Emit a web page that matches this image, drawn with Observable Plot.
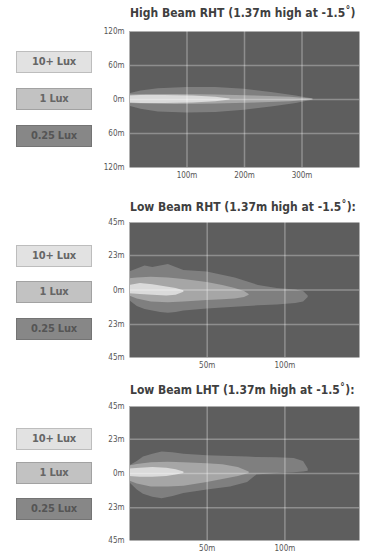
<!DOCTYPE html>
<html>
<head>
<meta charset="utf-8">
<script src="https://cdn.jsdelivr.net/npm/d3@7"></script>
<script src="https://cdn.jsdelivr.net/npm/@observablehq/plot@0.6"></script>
<style>
  html, body { margin: 0; padding: 0; background: #fff; }
  #root { position: relative; width: 372px; height: 554px; overflow: hidden; background: #fff;
          font-family: "DejaVu Sans Condensed", "Liberation Sans Narrow", "DejaVu Sans", sans-serif; }
  .panel { position: absolute; left: 0; }
  .title { position: absolute; left: 130px; white-space: nowrap; font-weight: bold; font-size: 12px; line-height: 14px; color: #3f3f3f; letter-spacing: 0px; }
  .lux { position: absolute; left: 16px; width: 74px; height: 20px; line-height: 20px; text-align: center;
         font-weight: bold; font-size: 11px; border: 1px solid; color: #666; letter-spacing: -0.2px; }
</style>
</head>
<body>
<div id="root"></div>
<script>
// ---------- legend ----------
const luxLabels = ["10+ Lux", "1 Lux", "0.25 Lux"];
const luxFills = ["#e2e2e2", "#c2c2c2", "#878787"];
const luxBorders = ["#bdbdbd", "#a2a2a2", "#747474"];
const beamFills = ["#dadada", "#a6a6a6", "#7f7f7f"];

// ---------- panel titles ----------
const titles = [
  "High Beam RHT (1.37m high at -1.5˚)",
  "Low Beam RHT (1.37m high at -1.5˚):",
  "Low Beam LHT (1.37m high at -1.5˚):"
];

// ---------- axis ticks ----------
const hbXTicks = [100, 200, 300];
const hbYTicks = [-120, -60, 0, 60, 120];
const lbXTicks = [50, 100];
const lbYTicks = [-45, -23, 0, 23, 45];

// ---------- High Beam RHT (metres) ----------
const hbQX   = [0, 20, 50, 100, 150, 200, 250, 290, 320];
const hbQTop = [10, 15, 19, 21, 21, 18, 12, 6, 1];
const hbQBot = [-12, -17, -22, -24, -23, -19, -13, -7, -1];
const hb1X   = [0, 30, 80, 150, 220, 280, 318];
const hb1Top = [8, 9, 9, 8, 6, 4, 1];
const hb1Bot = [-7, -8, -9, -8, -6, -4, -1];
const hb10X   = [0, 20, 60, 110, 150, 175];
const hb10Top = [6, 7, 7, 6, 4, 1];
const hb10Bot = [-6, -7, -7, -6, -4, -1];

// ---------- Low Beam RHT ----------
const lrQX   = [0, 5, 10, 15, 20, 25, 30, 35, 50, 68, 83, 95, 107, 112, 115];
const lrQTop = [12, 14, 16, 15, 16, 17, 15, 13, 12, 8, 3, 1, 0, -1, -4];
const lrQBot = [-7, -11, -13, -14, -15, -15.5, -15, -14, -12.6, -11.5, -10.5, -10, -9, -8, -5];
const lr1X   = [0, 5, 14, 25, 35, 50, 60, 68, 74, 77];
const lr1Top = [7.5, 8, 8.5, 8, 7, 5, 3, 1, -1, -3];
const lr1Bot = [-4, -6, -8, -8.5, -8, -7, -6.5, -6, -5, -3.5];
const lr10X   = [0, 7, 15, 24, 30, 35];
const lr10Top = [3, 4.3, 3.5, 2, 1, -0.5];
const lr10Bot = [-2.5, -3, -3.5, -4, -3.5, -1.5];

// ---------- Low Beam LHT ----------
const llQX   = [0, 5, 9, 15, 21, 28, 35, 50, 65, 76, 82, 95, 106, 112, 115];
const llQTop = [5, 8, 11, 13, 14.5, 14, 13, 12, 11.5, 11, 10.7, 10.5, 10, 8, 3];
const llQBot = [-6, -11, -14, -16, -17, -15.5, -13.5, -11, -9, -6, -1, 0, 0.5, 1, 1.5];
const ll1X   = [0, 5, 14, 25, 35, 50, 60, 70, 77];
const ll1Top = [5, 6, 7.2, 7.5, 7.2, 6.5, 5.8, 4, 1];
const ll1Bot = [-5, -7, -9, -9, -8.5, -6, -4, -2, 0];
const ll10X   = [0, 7, 15, 24, 30, 35];
const ll10Top = [3, 3.5, 4, 3.5, 2.5, 1];
const ll10Bot = [-2, -2.5, -2.5, -2, -1, 0];

const rows = (xs, tops, bots) => xs.map((x, i) => ({x, hi: tops[i], lo: bots[i]}));

const panels = [
  { top: 0, height: 190, mt: 31, mb: 23, titleTop: 6, boxTops: [51, 88, 125],
    xDomain: [0, 400], yDomain: [-120, 120], xTicks: hbXTicks, yTicks: hbYTicks,
    layers: [rows(hbQX, hbQTop, hbQBot), rows(hb1X, hb1Top, hb1Bot), rows(hb10X, hb10Top, hb10Bot)] },
  { top: 190, height: 182, mt: 32, mb: 15, titleTop: 200, boxTops: [245, 281, 318],
    xDomain: [0, 148], yDomain: [-45, 45], xTicks: lbXTicks, yTicks: lbYTicks,
    layers: [rows(lrQX, lrQTop, lrQBot), rows(lr1X, lr1Top, lr1Bot), rows(lr10X, lr10Top, lr10Bot)] },
  { top: 375, height: 179, mt: 31, mb: 14, titleTop: 383, boxTops: [428, 462, 498],
    xDomain: [0, 148], yDomain: [-45, 45], xTicks: lbXTicks, yTicks: lbYTicks,
    layers: [rows(llQX, llQTop, llQBot), rows(ll1X, ll1Top, ll1Bot), rows(ll10X, ll10Top, ll10Bot)] }
];

const root = document.getElementById("root");

panels.forEach((p, k) => {
  const gridY = p.yTicks.filter(t => t !== p.yDomain[0] && t !== p.yDomain[1]);
  const chart = Plot.plot({
    width: 372,
    height: p.height,
    marginLeft: 129,
    marginRight: 13,
    marginTop: p.mt,
    marginBottom: p.mb,
    style: { fontFamily: '"DejaVu Sans Condensed", "Liberation Sans Narrow", "DejaVu Sans", sans-serif', fontSize: "8px", color: "#555", background: "transparent", overflow: "visible" },
    x: { domain: p.xDomain, ticks: p.xTicks, tickFormat: d => d + "m", tickSize: 0, tickPadding: 5, label: null },
    y: { domain: p.yDomain, ticks: p.yTicks, tickFormat: d => Math.abs(d) + "m", tickSize: 0, tickPadding: 5, label: null },
    marks: [
      Plot.frame({ fill: "#5e5e5e", stroke: null }),
      // outer layer first, then brighter ones on top
      Plot.area(p.layers[0], { x1: "x", y1: "lo", y2: "hi", fill: beamFills[2], curve: "linear" }),
      Plot.area(p.layers[1], { x1: "x", y1: "lo", y2: "hi", fill: beamFills[1], curve: "linear" }),
      Plot.area(p.layers[2], { x1: "x", y1: "lo", y2: "hi", fill: beamFills[0], curve: "linear" }),
      Plot.gridX(p.xTicks, { stroke: "#fff", strokeOpacity: 0.3, strokeWidth: 1.5 }),
      Plot.gridY(gridY, { stroke: "#fff", strokeOpacity: 0.3, strokeWidth: 1.5 }),
      Plot.ruleX([0], { stroke: "#b0b0b0", strokeWidth: 1 })
    ]
  });
  chart.classList.add("panel");
  chart.style.top = p.top + "px";
  root.appendChild(chart);

  const t = document.createElement("div");
  t.className = "title";
  t.style.top = p.titleTop + "px";
  t.textContent = titles[k];
  root.appendChild(t);

  luxLabels.forEach((lab, i) => {
    const b = document.createElement("div");
    b.className = "lux";
    b.style.top = p.boxTops[i] + "px";
    b.style.background = luxFills[i];
    b.style.borderColor = luxBorders[i];
    if (i === 2) b.style.color = "#555";
    b.textContent = lab;
    root.appendChild(b);
  });
});
</script>
</body>
</html>
